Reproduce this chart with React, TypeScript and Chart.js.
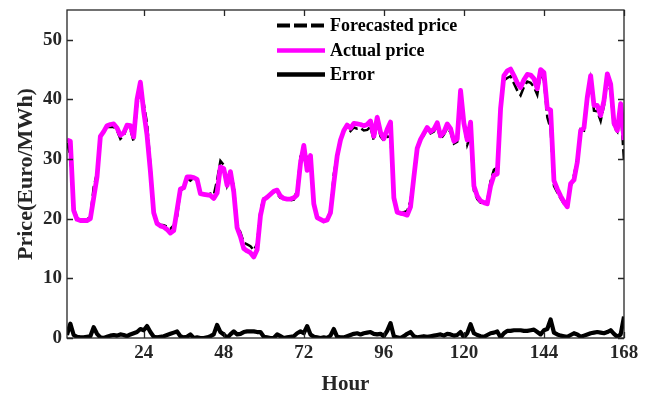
import React, { useEffect, useRef } from "react";
import { Chart, registerables } from "chart.js";
Chart.register(...registerables);

const HOURS: number[] = Array.from({ length: 168 }, (_, i) => i + 1);

const ACTUAL = [
  33.2, 33.0, 21.4, 19.9, 19.7, 19.7, 19.7, 20.0, 23.5, 27.0,
  33.8, 34.6, 35.6, 35.8, 35.9, 35.2, 34.0, 34.4, 35.7, 35.6,
  33.7, 40.0, 42.9, 38.0, 34.0, 28.0, 21.0, 19.2, 18.8, 18.6,
  18.2, 17.6, 18.0, 21.5, 25.0, 25.2, 27.0, 27.0, 26.9, 26.6,
  24.2, 24.1, 24.0, 23.9, 23.4, 24.3, 28.7, 28.4, 25.6, 27.9,
  24.5, 18.5, 17.0, 15.0, 14.6, 14.3, 13.6, 14.8, 20.5, 23.2,
  23.6, 24.1, 24.6, 24.8, 23.8, 23.4, 23.3, 23.3, 23.5, 24.0,
  29.3, 32.3, 28.1, 30.6, 22.5, 20.2, 19.9, 19.6, 19.8, 21.0,
  26.0, 30.5, 33.2, 34.8, 35.7, 35.2, 36.0, 35.9, 35.8, 35.6,
  35.8, 36.4, 33.8, 37.0, 34.5, 33.4, 35.0, 36.2, 23.5, 21.1,
  20.9, 20.8, 20.6, 22.0, 27.0, 31.8, 33.3, 34.3, 35.3, 34.6,
  35.0, 36.1, 33.9, 34.5, 35.9, 35.1, 33.0, 33.4, 41.5, 36.0,
  33.2, 36.2, 25.5, 23.8, 23.0, 22.7, 22.5, 25.5, 27.3, 27.5,
  38.5, 44.0, 44.8, 45.1, 44.0, 42.8, 42.0, 43.3, 44.2, 44.1,
  43.5, 41.8, 45.0, 44.5, 38.5, 38.2, 26.4, 25.0, 23.8, 22.8,
  22.0, 25.9, 26.5, 29.5, 34.8, 35.2, 40.4, 44.0, 39.0, 39.0,
  37.3, 39.8, 44.3, 42.6, 36.0, 34.8, 39.3, 33.2,
];

const FORECAST = [
  32.7, 30.6, 21.9, 20.1, 19.8, 19.8, 19.9, 20.3, 25.3, 27.7,
  33.7, 34.6, 35.4, 35.4, 35.4, 34.8, 33.4, 33.9, 35.4, 35.0,
  32.9, 39.0, 41.4, 39.3, 36.0, 29.0, 21.2, 19.3, 19.0, 18.9,
  18.7, 18.3, 18.9, 20.4, 24.7, 25.1, 26.8, 26.4, 26.9, 26.5,
  24.2, 24.1, 23.9, 24.2, 24.0, 26.5, 29.7, 29.0, 25.6, 27.3,
  25.6, 19.1, 17.7, 16.0, 15.7, 15.4, 14.7, 15.8, 21.5, 23.4,
  23.5, 24.1, 24.6, 24.2, 23.5, 23.4, 23.2, 23.1, 23.2, 24.8,
  30.4, 31.5, 30.1, 30.0, 22.7, 20.1, 19.9, 19.5, 19.8, 21.4,
  27.5, 30.7, 33.3, 34.7, 35.4, 34.7, 35.3, 35.1, 35.2, 34.8,
  34.9, 35.4, 33.1, 36.4, 33.8, 33.1, 33.8, 33.7, 23.8, 21.0,
  20.9, 21.1, 21.3, 23.0, 27.3, 31.9, 33.1, 34.0, 35.1, 34.3,
  34.6, 35.6, 33.3, 34.1, 35.2, 34.5, 32.6, 32.9, 40.5, 35.9,
  32.4, 33.9, 24.7, 23.3, 22.7, 22.5, 23.0, 26.3, 28.2, 28.6,
  38.4, 43.2, 43.6, 43.9, 42.7, 41.5, 40.7, 42.1, 43.0, 42.8,
  42.1, 40.8, 44.4, 43.2, 37.0, 35.1, 25.5, 24.4, 23.4, 22.5,
  22.2, 25.4, 27.3, 30.1, 35.0, 34.8, 39.8, 43.2, 38.1, 38.0,
  36.4, 39.0, 43.3, 41.3, 35.3, 34.6, 38.7, 29.6,
];

const ERROR = [
  0.5, 2.4, 0.5, 0.2, 0.1, 0.1, 0.2, 0.3, 1.8, 0.7,
  0.1, 0.0, 0.2, 0.4, 0.5, 0.4, 0.6, 0.5, 0.3, 0.6,
  0.8, 1.0, 1.5, 1.3, 2.0, 1.0, 0.2, 0.1, 0.2, 0.3,
  0.5, 0.7, 0.9, 1.1, 0.3, 0.1, 0.2, 0.6, 0.0, 0.1,
  0.0, 0.0, 0.1, 0.3, 0.6, 2.2, 1.0, 0.6, 0.0, 0.6,
  1.1, 0.6, 0.7, 1.0, 1.1, 1.1, 1.1, 1.0, 1.0, 0.2,
  0.1, 0.0, 0.0, 0.6, 0.3, 0.0, 0.1, 0.2, 0.3, 0.8,
  1.1, 0.8, 2.0, 0.6, 0.2, 0.1, 0.0, 0.1, 0.0, 0.4,
  1.5, 0.2, 0.1, 0.1, 0.3, 0.5, 0.7, 0.8, 0.6, 0.8,
  0.9, 1.0, 0.7, 0.6, 0.7, 0.3, 1.2, 2.5, 0.3, 0.1,
  0.0, 0.3, 0.7, 1.0, 0.3, 0.1, 0.2, 0.3, 0.2, 0.3,
  0.4, 0.5, 0.6, 0.4, 0.7, 0.6, 0.4, 0.5, 1.0, 0.1,
  0.8, 2.3, 0.8, 0.5, 0.3, 0.2, 0.5, 0.8, 0.9, 1.1,
  0.1, 0.8, 1.2, 1.2, 1.3, 1.3, 1.3, 1.2, 1.2, 1.3,
  1.4, 1.0, 0.6, 1.3, 1.5, 3.1, 0.9, 0.6, 0.4, 0.3,
  0.2, 0.5, 0.8, 0.6, 0.2, 0.4, 0.6, 0.8, 0.9, 1.0,
  0.9, 0.8, 1.0, 1.3, 0.7, 0.2, 0.6, 3.6,
];

const X_TICKS = [24, 48, 72, 96, 120, 144, 168];
const Y_TICKS = [0, 10, 20, 30, 40, 50];
const LEGEND_LABELS = ["Forecasted price", "Actual price", "Error"];

const SERIF = "'Liberation Serif', 'Times New Roman', serif";
const AXIS_COLOR = "#262626";
const MAGENTA = "#ff00ff";

const toPoints = (vals: number[]) => HOURS.map((h, i) => ({ x: h, y: vals[i] }));

const framePlugin = {
  id: "matlabFrame",
  afterDraw(chart: any) {
    const { ctx, chartArea, scales } = chart;
    const { left, right, top, bottom } = chartArea;
    const xs = scales.x;
    const ys = scales.y;
    ctx.save();
    ctx.strokeStyle = AXIS_COLOR;
    ctx.lineWidth = 1.3;
    ctx.setLineDash([]);
    ctx.strokeRect(left, top, right - left, bottom - top);
    const tl = 6;
    ctx.beginPath();
    X_TICKS.forEach((v) => {
      const px = Math.round(xs.getPixelForValue(v)) + 0.5;
      ctx.moveTo(px, bottom);
      ctx.lineTo(px, bottom - tl);
      ctx.moveTo(px, top);
      ctx.lineTo(px, top + tl);
    });
    Y_TICKS.forEach((v) => {
      const py = Math.round(ys.getPixelForValue(v)) + 0.5;
      ctx.moveTo(left, py);
      ctx.lineTo(left + tl, py);
      ctx.moveTo(right, py);
      ctx.lineTo(right - tl, py);
    });
    ctx.stroke();

    // legend
    const lx0 = 277;
    const lx1 = 325;
    const tx = 330;
    const rows = [25.5, 50.5, 74.5];
    const styles = [
      { color: "#000", width: 4, dash: [13, 4] },
      { color: MAGENTA, width: 4.5, dash: [] as number[] },
      { color: "#000", width: 4.5, dash: [] as number[] },
    ];
    ctx.font = `bold 18px ${SERIF}`;
    ctx.textBaseline = "middle";
    ctx.textAlign = "left";
    LEGEND_LABELS.forEach((label, i) => {
      const st = styles[i];
      ctx.beginPath();
      ctx.setLineDash(st.dash);
      ctx.strokeStyle = st.color;
      ctx.lineWidth = st.width;
      ctx.moveTo(lx0, rows[i]);
      ctx.lineTo(lx1, rows[i]);
      ctx.stroke();
      ctx.setLineDash([]);
      ctx.fillStyle = "#000";
      ctx.fillText(label, tx, rows[i] + 1);
    });
    ctx.restore();
  },
};

export default function App() {
  const canvasRef = useRef<HTMLCanvasElement | null>(null);

  useEffect(() => {
    document.body.style.margin = "0";
    const canvas = canvasRef.current;
    if (!canvas) return;
    const chart = new Chart(canvas, {
      type: "line",
      data: {
        datasets: [
          {
            label: LEGEND_LABELS[1],
            data: toPoints(ACTUAL),
            borderColor: MAGENTA,
            borderWidth: 4.8,
            pointRadius: 0,
            tension: 0,
            borderJoinStyle: "round",
          },
          {
            label: LEGEND_LABELS[0],
            data: toPoints(FORECAST),
            borderColor: "#000",
            borderWidth: 2.5,
            borderDash: [10, 4],
            pointRadius: 0,
            tension: 0,
          },
          {
            label: LEGEND_LABELS[2],
            data: toPoints(ERROR),
            borderColor: "#000",
            borderWidth: 4.2,
            pointRadius: 0,
            tension: 0,
            borderJoinStyle: "round",
          },
        ],
      },
      options: {
        responsive: false,
        animation: false,
        devicePixelRatio: 1,
        layout: { padding: { left: 0, right: 30, top: 10, bottom: 0 } },
        plugins: {
          legend: { display: false },
          tooltip: { enabled: false },
        },
        scales: {
          x: {
            type: "linear",
            min: 1,
            max: 168,
            afterBuildTicks: (scale: any) => {
              scale.ticks = X_TICKS.map((v) => ({ value: v }));
            },
            afterFit: (scale: any) => {
              scale.height = 56;
              scale.paddingLeft = 0;
              scale.paddingRight = 0;
            },
            grid: { display: false, drawTicks: false },
            border: { display: false },
            ticks: {
              padding: 4,
              color: AXIS_COLOR,
              maxRotation: 0,
              autoSkip: false,
              font: { family: SERIF, size: 19, weight: "bold" },
            },
            title: {
              display: true,
              text: "Hour",
              color: AXIS_COLOR,
              font: { family: SERIF, size: 21, weight: "bold", lineHeight: 1 },
              padding: { top: 0, bottom: -1 },
            },
          },
          y: {
            type: "linear",
            min: 0,
            max: 55,
            afterBuildTicks: (scale: any) => {
              scale.ticks = Y_TICKS.map((v) => ({ value: v }));
            },
            afterFit: (scale: any) => {
              scale.width = 67;
              scale.paddingTop = 0;
              scale.paddingBottom = 0;
            },
            grid: { display: false, drawTicks: false },
            border: { display: false },
            ticks: {
              padding: 5,
              color: AXIS_COLOR,
              autoSkip: false,
              font: { family: SERIF, size: 19, weight: "bold" },
            },
            title: {
              display: true,
              text: "Price(Euro/MWh)",
              color: AXIS_COLOR,
              font: { family: SERIF, size: 22, weight: "bold", lineHeight: 1 },
              padding: { top: 15, bottom: 0 },
            },
          },
        },
      },
      plugins: [framePlugin],
    } as any);
    return () => chart.destroy();
  }, []);

  return (
    <div style={{ width: 654, height: 394 }}>
      <canvas ref={canvasRef} width={654} height={394} />
    </div>
  );
}
